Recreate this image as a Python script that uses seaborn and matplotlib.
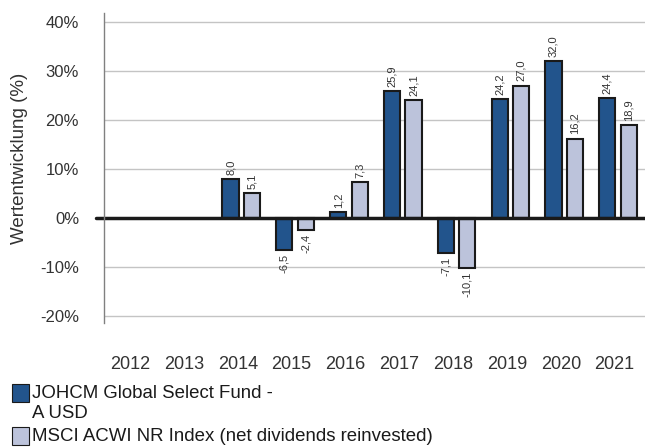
import numpy as np
import pandas as pd
import seaborn as sns
import matplotlib.pyplot as plt
from matplotlib.patches import Rectangle
from matplotlib.transforms import ScaledTranslation

sns.set_style("white")
plt.rcParams["font.family"] = ["Liberation Sans", "DejaVu Sans"]

years = ["2012", "2013", "2014", "2015", "2016", "2017", "2018", "2019", "2020", "2021"]
fund = [np.nan, np.nan, 8.0, -6.5, 1.2, 25.9, -7.1, 24.2, 32.0, 24.4]
index = [np.nan, np.nan, 5.1, -2.4, 7.3, 24.1, -10.1, 27.0, 16.2, 18.9]
fund_name = "JOHCM Global Select Fund -\nA USD"
index_name = "MSCI ACWI NR Index (net dividends reinvested)"

dark = "#22548C"
light = "#BCC3DB"

df = pd.DataFrame({
    "Jahr": years * 2,
    "Wert": fund + index,
    "Serie": [fund_name] * len(years) + [index_name] * len(years),
})

W, H = 645, 448
fig = plt.figure(figsize=(W / 100, H / 100), dpi=100)
ax = fig.add_axes([104 / W, 1 - 323 / H, 1 - 104 / W, (323 - 13) / H])

sns.barplot(data=df, x="Jahr", y="Wert", hue="Serie", order=years,
            hue_order=[fund_name, index_name], palette=[dark, light],
            saturation=1, width=0.8, gap=0.25, edgecolor="#1a1a1a",
            linewidth=1.5, legend=False, ax=ax)

for cont in ax.containers:
    labels = [f"{v:.1f}".replace(".", ",") for v in cont.datavalues]
    ax.bar_label(cont, labels=labels, rotation=90, padding=3,
                 fontsize=8, color="#333333")

ax.set_ylim(-21.4, 41.8)
ax.set_xlim(-0.55, 9.5)
ax.set_yticks(range(-20, 41, 10))
ax.set_yticklabels([f"{t}%" for t in range(-20, 41, 10)])
ax.yaxis.grid(True, color="#c4c4c4", linewidth=1)
ax.set_axisbelow(True)
ax.axhline(0, color="#1a1a1a", linewidth=2.5, xmin=-0.014, clip_on=False)

for s in ["top", "right", "bottom"]:
    ax.spines[s].set_visible(False)
ax.spines["left"].set_color("#808080")
ax.spines["left"].set_linewidth(1)

ax.tick_params(axis="y", length=7, color="#c4c4c4", labelsize=12,
               labelcolor="#333333", pad=11)
ax.tick_params(axis="x", length=0, labelsize=13, labelcolor="#333333", pad=24)
# year labels sit a little left of the bar pairs in the original
shift = ScaledTranslation(-3.5 / 100, 0, fig.dpi_scale_trans)
for lbl in ax.get_xticklabels():
    lbl.set_transform(lbl.get_transform() + shift)
ax.set_xlabel("")
ax.set_ylabel("Wertentwicklung (%)", fontsize=13.5, color="#333333")
ax.yaxis.set_label_coords(-0.140, 0.532)

# legend below the chart: box aligned with first text line
texts = []
for top, color, name in [(384, dark, fund_name), (427, light, index_name)]:
    fig.add_artist(Rectangle((12 / W, 1 - (top + 18) / H), 17 / W, 18 / H,
                             transform=fig.transFigure, facecolor=color,
                             edgecolor="#1a1a1a", linewidth=0.8))
    texts.append(fig.text(32 / W, 1 - (top + 1) / H, name, va="top",
                          ha="left", fontsize=13, color="#1a1a1a",
                          linespacing=1.2))

# fit legend font so the long label spans ~401 px like the original
renderer = fig.canvas.get_renderer()
w = texts[1].get_window_extent(renderer).width
for t in texts:
    t.set_fontsize(13 * 401 / w)

fig.savefig("out.png", dpi=100)
